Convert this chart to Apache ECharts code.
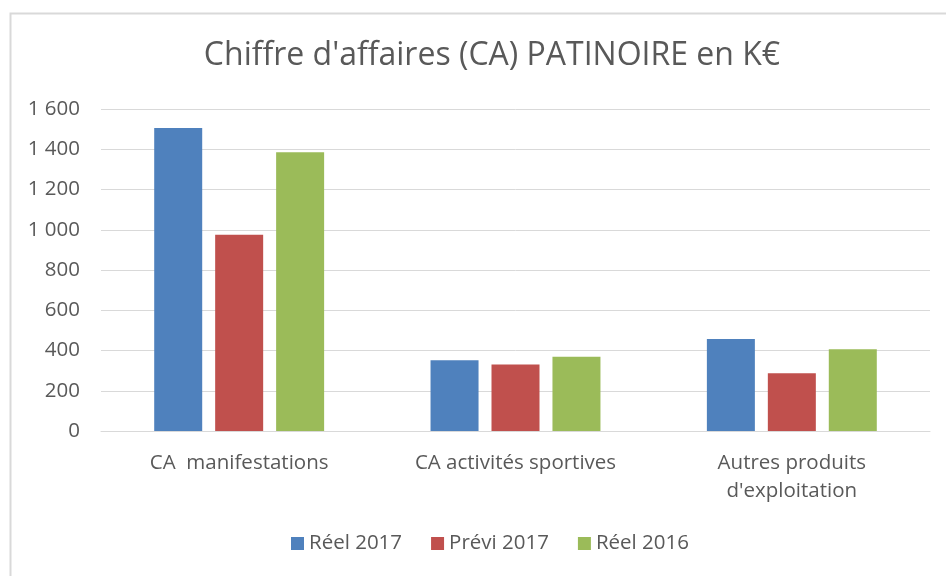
<!DOCTYPE html>
<html>
<head>
<meta charset="utf-8">
<script src="https://cdn.jsdelivr.net/npm/echarts@6/dist/echarts.min.js"></script>
<style>
  html, body { margin: 0; padding: 0; background: #fff; }
  #chart { width: 946px; height: 576px; }
</style>
</head>
<body>
<div id="chart"></div>
<script>
// chart data
var categories = ['CA  manifestations', 'CA activités sportives', "Autres produits\nd'exploitation"];
var seriesNames = ['Réel 2017', 'Prévi 2017', 'Réel 2016'];
var reel2017 = [1505, 351, 457];
var previ2017 = [975, 331, 287];
var reel2016 = [1385, 369, 406];
var colors = ['#4F81BD', '#C0504D', '#9BBB59'];

var font = "'Open Sans', 'Noto Sans', sans-serif";
var textColor = '#595959';

function fmt(v) {
    // thousands separator as in the original (space)
    return String(v).replace(/\B(?=(\d{3})+(?!\d))/g, ' ');
}

var values = [reel2017, previ2017, reel2016];
var series = [];
for (var i = 0; i < seriesNames.length; i++) {
    series.push({
        name: seriesNames[i],
        type: 'bar',
        data: values[i],
        barWidth: 48,
        barGap: '27%',
        itemStyle: { color: colors[i] }
    });
}

var option = {
    animation: false,
    backgroundColor: '#fff',
    color: colors,
    textStyle: { fontFamily: font },
    title: {
        text: "Chiffre d'affaires (CA) PATINOIRE en K€",
        left: 487,
        textAlign: 'center',
        top: 35,
        textStyle: { fontFamily: font, fontSize: 32, fontWeight: 'normal', color: textColor }
    },
    graphic: [{
        type: 'rect',
        left: 8,
        top: 11,
        shape: { width: 960, height: 600 },
        style: { fill: 'none', stroke: '#d9d9d9', lineWidth: 2 },
        silent: true
    }],
    legend: {
        bottom: 17,
        left: 286,
        itemWidth: 13,
        itemHeight: 13,
        itemGap: 29,
        icon: 'rect',
        textStyle: { fontFamily: font, fontSize: 20.5, color: textColor },
        data: seriesNames
    },
    grid: { left: 101, right: 16, top: 109, bottom: 145, containLabel: false },
    xAxis: {
        type: 'category',
        data: categories,
        axisLine: { lineStyle: { color: '#d9d9d9', width: 1 } },
        axisTick: { show: false },
        axisLabel: {
            margin: 18,
            fontFamily: font,
            fontSize: 20.5,
            lineHeight: 28,
            color: textColor,
            interval: 0
        }
    },
    yAxis: {
        type: 'value',
        min: 0,
        max: 1600,
        interval: 200,
        axisLine: { show: false },
        axisTick: { show: false },
        splitLine: { lineStyle: { color: '#d9d9d9', width: 1 } },
        axisLabel: {
            margin: 21,
            fontFamily: font,
            fontSize: 20.5,
            color: textColor,
            formatter: fmt
        }
    },
    series: series
};

var chart = echarts.init(document.getElementById('chart'));
chart.setOption(option);
</script>
</body>
</html>
